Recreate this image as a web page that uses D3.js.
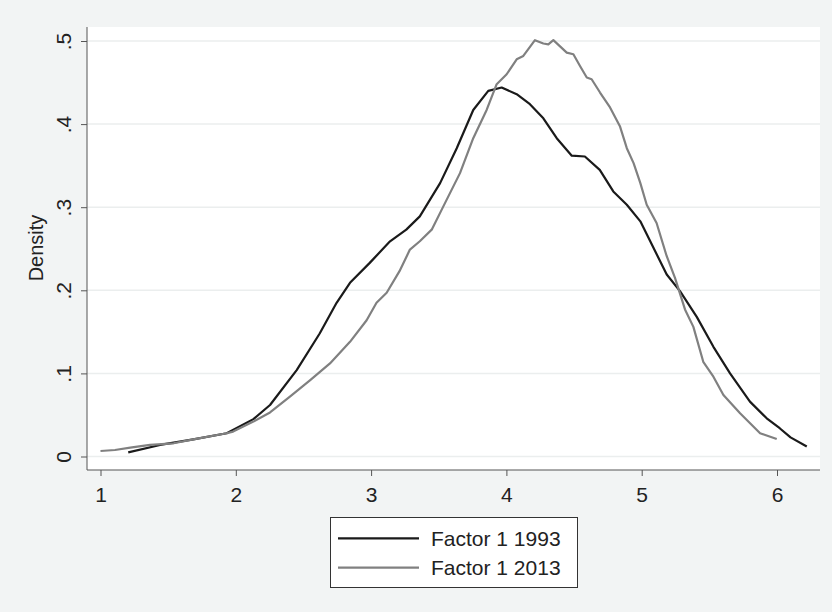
<!DOCTYPE html>
<html>
<head>
<meta charset="utf-8">
<script src="https://cdn.jsdelivr.net/npm/d3@7"></script>
<style>
  body { margin: 0; background: #f2f4f4; }
  svg { display: block; font-family: "Liberation Sans", Arial, sans-serif; }
</style>
</head>
<body>
<svg width="832" height="612"></svg>
<script>
// density estimates
const x1993 = [1.205, 1.44, 1.686, 1.933, 2.13, 2.253, 2.45, 2.62, 2.745, 2.844, 2.99, 3.14, 3.26, 3.36, 3.51, 3.633, 3.755, 3.866, 3.965, 4.076, 4.174, 4.273, 4.372, 4.483, 4.58, 4.69, 4.79, 4.89, 4.99, 5.185, 5.283, 5.407, 5.53, 5.653, 5.80, 5.924, 6.02, 6.1, 6.22]
const d1993 = [0.005, 0.0139, 0.0207, 0.028, 0.045, 0.062, 0.104, 0.148, 0.185, 0.209, 0.233, 0.259, 0.273, 0.289, 0.329, 0.371, 0.417, 0.44, 0.444, 0.436, 0.424, 0.407, 0.383, 0.362, 0.361, 0.345, 0.319, 0.303, 0.283, 0.219, 0.199, 0.168, 0.132, 0.1, 0.066, 0.046, 0.034, 0.023, 0.012]

const x2013 = [1.0, 1.107, 1.22, 1.366, 1.54, 1.686, 1.933, 1.98, 2.13, 2.253, 2.40, 2.55, 2.696, 2.844, 2.967, 3.04, 3.115, 3.21, 3.287, 3.36, 3.448, 3.534, 3.657, 3.755, 3.854, 3.928, 4.002, 4.076, 4.125, 4.211, 4.273, 4.31, 4.347, 4.446, 4.495, 4.544, 4.594, 4.63, 4.692, 4.766, 4.84, 4.89, 4.94, 4.99, 5.037, 5.11, 5.185, 5.246, 5.32, 5.382, 5.455, 5.53, 5.604, 5.727, 5.875, 5.998]
const d2013 = [0.0066, 0.0078, 0.0106, 0.0139, 0.0159, 0.0207, 0.028, 0.03, 0.042, 0.053, 0.072, 0.092, 0.112, 0.138, 0.164, 0.185, 0.197, 0.223, 0.249, 0.259, 0.273, 0.301, 0.341, 0.383, 0.417, 0.448, 0.46, 0.478, 0.482, 0.501, 0.497, 0.496, 0.501, 0.486, 0.484, 0.47, 0.456, 0.454, 0.438, 0.42, 0.397, 0.371, 0.353, 0.329, 0.303, 0.281, 0.241, 0.215, 0.177, 0.156, 0.114, 0.096, 0.074, 0.052, 0.028, 0.021]

const xTicks = [1, 2, 3, 4, 5, 6]
const yTicks = [0, 0.1, 0.2, 0.3, 0.4, 0.5]
const yTickLabels = ["0", ".1", ".2", ".3", ".4", ".5"]
const seriesNames = ["Factor 1 1993", "Factor 1 2013"]
const seriesColors = ["#1a1a1a", "#808080"]

const svg = d3.select("svg")
const font = "Liberation Sans, Arial, sans-serif"

const x = d3.scaleLinear().domain([1, 6]).range([100.5, 777])
const y = d3.scaleLinear().domain([0, 0.5]).range([456.5, 41])

// plot region
svg.append("rect")
    .attr("x", 87).attr("y", 27)
    .attr("width", 733).attr("height", 443)
    .attr("fill", "#ffffff")

// grid lines
svg.append("g")
    .selectAll("line")
    .data(yTicks)
    .enter().append("line")
    .attr("x1", 87).attr("x2", 820)
    .attr("y1", d => y(d)).attr("y2", d => y(d))
    .attr("stroke", "#ebeeee")
    .attr("stroke-width", 1.5)

// curves
const line = d3.line().x(d => x(d[0])).y(d => y(d[1]))
const series = [d3.zip(x1993, d1993), d3.zip(x2013, d2013)]

svg.append("g")
    .selectAll("path")
    .data(series)
    .enter().append("path")
    .attr("d", line)
    .attr("fill", "none")
    .attr("stroke", (d, i) => seriesColors[i])
    .attr("stroke-width", 2.2)
    .attr("stroke-linejoin", "round")

// axes
const xAxis = svg.append("g")
    .attr("transform", "translate(0,470)")
    .call(d3.axisBottom(x).tickValues(xTicks).tickFormat(d3.format("d")).tickSize(6))
xAxis.select(".domain").attr("d", "M87,0H820").attr("stroke", "#555")
xAxis.selectAll(".tick line").attr("stroke", "#555")
xAxis.selectAll("text")
    .attr("y", 32).attr("dy", null)
    .attr("font-size", 21).attr("fill", "#222").attr("font-family", font)

const yAxis = svg.append("g")
    .attr("transform", "translate(87,0)")
    .call(d3.axisLeft(y).tickValues(yTicks).tickFormat((d, i) => yTickLabels[i]).tickSize(6))
yAxis.select(".domain").attr("d", "M0,27V470").attr("stroke", "#555")
yAxis.selectAll(".tick line").attr("stroke", "#555")
yAxis.selectAll("text")
    .attr("x", 0).attr("dy", null)
    .attr("transform", "translate(-16,0) rotate(-90)")
    .attr("text-anchor", "middle")
    .attr("font-size", 21).attr("fill", "#222")
    .attr("font-family", font)

svg.append("text")
    .attr("transform", "translate(43,248) rotate(-90)")
    .attr("text-anchor", "middle")
    .attr("font-size", 20).attr("fill", "#222")
    .text("Density")

// legend
const legend = svg.append("g")
legend.append("rect")
    .attr("x", 330.5).attr("y", 517.5)
    .attr("width", 247).attr("height", 70)
    .attr("fill", "#fff").attr("stroke", "#333")

const items = legend.selectAll(".item")
    .data(seriesNames)
    .enter().append("g")
    .attr("transform", (d, i) => `translate(0,${538.3 + i * 29.4})`)
items.append("line")
    .attr("x1", 338).attr("x2", 419)
    .attr("stroke", (d, i) => seriesColors[i])
    .attr("stroke-width", 2.2)
items.append("text")
    .attr("x", 431).attr("y", 7.5)
    .attr("font-size", 21).attr("fill", "#222")
    .text(d => d)
</script>
</body>
</html>
